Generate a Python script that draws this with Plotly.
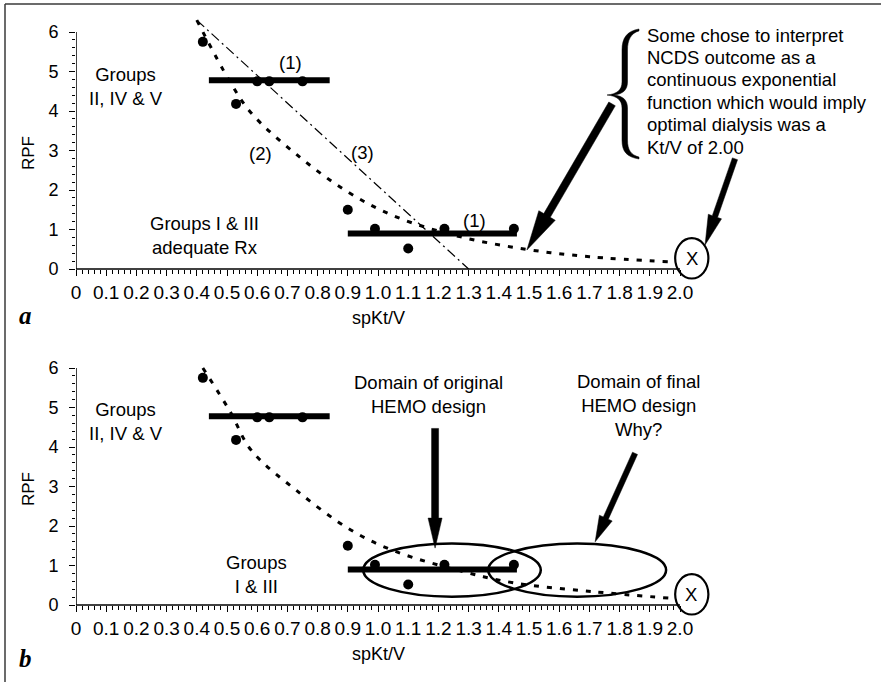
import math
import plotly.graph_objects as go

W, H = 881, 682

# ---------------- data ----------------
kt_points = [0.42, 0.53, 0.60, 0.64, 0.75, 0.90, 0.99, 1.10, 1.22, 1.45]
rpf_points = [5.75, 4.18, 4.75, 4.75, 4.75, 1.50, 1.02, 0.52, 1.02, 1.02]

bar_high_x = [0.44, 0.84]
bar_high_y = [4.78, 4.78]
bar_low_x = [0.90, 1.46]
bar_low_y = [0.90, 0.90]

exp_a_x = [0.40, 0.51, 0.58, 0.73, 0.90, 1.06, 1.27, 1.49, 1.70, 1.97]
exp_a_y = [6.30, 4.74, 3.95, 2.90, 1.95, 1.32, 0.82, 0.50, 0.31, 0.18]

exp_b_x = [0.42, 0.51, 0.58, 0.73, 0.91, 1.06, 1.27, 1.45, 1.71, 1.97]
exp_b_y = [6.00, 4.90, 3.92, 2.90, 1.90, 1.35, 0.87, 0.56, 0.34, 0.17]

linear_x = [0.40, 1.30]
linear_y = [6.30, 0.00]

x_tickvals = [0.0, 0.1, 0.2, 0.3, 0.4, 0.5, 0.6, 0.7, 0.8, 0.9, 1.0,
              1.1, 1.2, 1.3, 1.4, 1.5, 1.6, 1.7, 1.8, 1.9, 2.0]
x_ticktext = ["0", "0.1", "0.2", "0.3", "0.4", "0.5", "0.6", "0.7", "0.8", "0.9", "1.0",
              "1.1", "1.2", "1.3", "1.4", "1.5", "1.6", "1.7", "1.8", "1.9", "2.0"]
y_tickvals = [0, 1, 2, 3, 4, 5, 6]
y_ticktext = ["0", "1", "2", "3", "4", "5", "6"]

note_lines = ["Some chose to interpret", "NCDS outcome as a", "continuous exponential",
              "function which would imply", "optimal dialysis was a", "Kt/V of 2.00"]

# ---------------- geometry ----------------
X0, XS = 76.0, 302.0          # pixel of x=0, pixels per unit
YA0, YB0, YS = 269.0, 605.0, 39.5
XR = [0.0, 2.3]
YR = [-0.45, 6.6]

FONT = "Liberation Sans, Arial, Helvetica, sans-serif"
TS = 18.5


def px_x(x):
    return X0 + XS * x


def px_y(y, panel):
    return (YA0 if panel == "a" else YB0) - YS * y


def pap(px, py):
    return px / W, 1.0 - py / H


x_dom = [X0 / W, (X0 + XS * XR[1]) / W]


def y_dom(base):
    top = base - YS * YR[1]
    bot = base - YS * YR[0]
    return [1 - bot / H, 1 - top / H]


minor_x = [round(i * 0.02, 2) for i in range(101) if i % 5 != 0]
minor_y = [round(i * 0.2, 1) for i in range(31) if i % 5 != 0]

fig = go.Figure()

for xa, ya, cx, cy in (("x", "y", exp_a_x, exp_a_y), ("x2", "y2", exp_b_x, exp_b_y)):
    fig.add_trace(go.Scatter(x=cx, y=cy, mode="lines", xaxis=xa, yaxis=ya,
                             line=dict(color="black", width=3, dash="5px,8px", shape="spline"),
                             hoverinfo="skip"))
    fig.add_trace(go.Scatter(x=bar_high_x, y=bar_high_y, mode="lines", xaxis=xa, yaxis=ya,
                             line=dict(color="black", width=6)))
    fig.add_trace(go.Scatter(x=bar_low_x, y=bar_low_y, mode="lines", xaxis=xa, yaxis=ya,
                             line=dict(color="black", width=6)))
    fig.add_trace(go.Scatter(x=kt_points, y=rpf_points, mode="markers", xaxis=xa, yaxis=ya,
                             marker=dict(color="black", size=10)))

fig.add_trace(go.Scatter(x=linear_x, y=linear_y, mode="lines", xaxis="x", yaxis="y",
                         line=dict(color="black", width=1.2, dash="10px,4px,2px,4px")))


def xaxis_cfg(base):
    return dict(domain=x_dom, range=XR, anchor="free", position=1 - base / H,
                showline=False, showgrid=False, zeroline=False, automargin=False,
                tickmode="array", tickvals=x_tickvals, ticktext=x_ticktext,
                ticks="outside", ticklen=6, tickwidth=1.3, tickcolor="black",
                ticklabelstandoff=0,
                minor=dict(tickmode="array", tickvals=minor_x, ticks="outside",
                           ticklen=3.5, tickwidth=1, tickcolor="black"),
                tickfont=dict(family=FONT, size=19, color="black"))


def yaxis_cfg(base, anchor):
    return dict(domain=y_dom(base), range=YR, anchor=anchor,
                showline=False, showgrid=False, zeroline=False, automargin=False,
                tickmode="array", tickvals=y_tickvals, ticktext=y_ticktext,
                ticks="outside", ticklen=6, tickwidth=1.3, tickcolor="black",
                ticklabelstandoff=7,
                minor=dict(tickmode="array", tickvals=minor_y, ticks="outside",
                           ticklen=3.5, tickwidth=1, tickcolor="black"),
                tickfont=dict(family=FONT, size=18, color="black"))


shapes = []
# axis lines
for xr, yr in (("x", "y"), ("x2", "y2")):
    shapes.append(dict(type="line", xref=xr, yref=yr, x0=0, y0=0, x1=2.0, y1=0,
                       line=dict(color="black", width=1.5)))
    shapes.append(dict(type="line", xref=xr, yref=yr, x0=0, y0=0, x1=0, y1=6,
                       line=dict(color="black", width=1.5)))
    # circled X
    shapes.append(dict(type="circle", xref=xr, yref=yr, x0=1.984, x1=2.094, y0=-0.24, y1=0.78,
                       line=dict(color="black", width=2.2)))

# ellipses (panel b)
shapes.append(dict(type="circle", xref="x2", yref="y2", x0=0.951, x1=1.539, y0=0.21, y1=1.56,
                   line=dict(color="black", width=2.5)))
shapes.append(dict(type="circle", xref="x2", yref="y2", x0=1.365, x1=1.954, y0=0.21, y1=1.56,
                   line=dict(color="black", width=2.5)))

# frame
fx0, fy0 = pap(5, 4)
fx1, fy1 = pap(W, 4)
shapes.append(dict(type="line", xref="paper", yref="paper", x0=fx0, y0=fy0, x1=fx1, y1=fy1,
                   line=dict(color="#3a3a3a", width=1.5)))
fx2, fy2 = pap(5, H)
shapes.append(dict(type="line", xref="paper", yref="paper", x0=fx0, y0=fy0, x1=fx2, y1=fy2,
                   line=dict(color="#3a3a3a", width=1.5)))


def arrow(tail, tip, panel, w, L, Wh):
    tx, ty = px_x(tail[0]), px_y(tail[1], panel)
    hx, hy = px_x(tip[0]), px_y(tip[1], panel)
    dx, dy = hx - tx, hy - ty
    d = math.hypot(dx, dy)
    ux, uy = dx / d, dy / d
    nx, ny = -uy, ux
    bx, by = hx - ux * L, hy - uy * L
    pts = [(tx + nx * w / 2, ty + ny * w / 2), (bx + nx * w / 2, by + ny * w / 2),
           (bx + nx * Wh / 2, by + ny * Wh / 2), (hx, hy),
           (bx - nx * Wh / 2, by - ny * Wh / 2), (bx - nx * w / 2, by - ny * w / 2),
           (tx - nx * w / 2, ty - ny * w / 2)]
    p = [pap(a, b) for a, b in pts]
    path = "M " + " L ".join(f"{a:.5f},{b:.5f}" for a, b in p) + " Z"
    return dict(type="path", xref="paper", yref="paper", path=path,
                fillcolor="black", line=dict(color="black", width=0.5))


shapes.append(arrow((1.775, 4.18), (1.493, 0.48), "a", 7.5, 40, 19))
shapes.append(arrow((2.182, 2.79), (2.083, 0.61), "a", 5.5, 30, 14))
shapes.append(arrow((1.189, 4.47), (1.189, 1.44), "b", 7, 30, 14))
shapes.append(arrow((1.851, 3.84), (1.719, 1.60), "b", 5.5, 26, 14))

# curly brace (pixel outline -> paper)
brace_px = [
    ("M", [(639, 29)]),
    ("C", [(627, 31), (622, 38), (622, 50)]),
    ("L", [(622, 82)]),
    ("C", [(622, 90), (617, 94), (607, 95)]),
    ("C", [(617, 96), (622, 100), (622, 108)]),
    ("L", [(622, 140)]),
    ("C", [(622, 152), (627, 157), (639, 159)]),
    ("L", [(639, 157)]),
    ("C", [(631, 155), (627.5, 150), (627.5, 140)]),
    ("L", [(627.5, 108)]),
    ("C", [(627.5, 100), (623, 96), (614, 95)]),
    ("C", [(623, 94), (627.5, 90), (627.5, 82)]),
    ("L", [(627.5, 50)]),
    ("C", [(627.5, 40), (631, 33), (639, 31)]),
]
bp = ""
for cmd, pts in brace_px:
    bp += cmd + " " + " ".join("%.5f,%.5f" % pap(a, b) for a, b in pts) + " "
bp += "Z"
shapes.append(dict(type="path", xref="paper", yref="paper", path=bp,
                   fillcolor="black", line=dict(color="black", width=0.5)))

annotations = []


def txt(text, x, y, xr, yr, size=TS, align="center", xanchor="center", **kw):
    annotations.append(dict(text=text, x=x, y=y, xref=xr, yref=yr, showarrow=False,
                            font=dict(family=FONT, size=size, color="black"),
                            align=align, xanchor=xanchor, yanchor="middle", **kw))


# panel a texts
txt("Groups<br>II, IV &amp; V", 0.165, 4.62, "x", "y")
txt("(1)", 0.71, 5.24, "x", "y")
txt("(2)", 0.61, 2.93, "x", "y")
txt("(3)", 0.95, 2.94, "x", "y")
txt("(1)", 1.32, 1.24, "x", "y")
txt("Groups I &amp; III<br>adequate Rx", 0.427, 0.85, "x", "y")
txt("X", 2.039, 0.27, "x", "y")
for i, line in enumerate(note_lines):
    py = 35 + 22.4 * i
    txt(line, 1.883, (YA0 - py) / YS, "x", "y", align="left", xanchor="left")

# panel b texts
txt("Groups<br>II, IV &amp; V", 0.165, 4.65, "x2", "y2")
txt("Groups<br>I &amp; III", 0.598, 0.76, "x2", "y2")
txt("Domain of original<br>HEMO design", 1.167, 5.32, "x2", "y2")
txt("Domain of final<br>HEMO design<br>Why?", 1.862, 5.04, "x2", "y2")
txt("X", 2.035, 0.27, "x2", "y2")

# axis titles
for base in (YA0, YB0):
    ax_, ay_ = pap(378, base + 49)
    txt("spKt/V", ax_, ay_, "paper", "paper", size=18)
    rx, ry = pap(28, base - 116)
    txt("RPF", rx, ry, "paper", "paper", size=17, textangle=-90)

# panel letters
for letter, py in (("a", 315), ("b", 658)):
    lx, ly = pap(17, py)
    annotations.append(dict(text="<b><i>%s</i></b>" % letter, x=lx, y=ly, xref="paper", yref="paper",
                            showarrow=False, xanchor="left", yanchor="middle",
                            font=dict(family="Liberation Serif, Times New Roman, serif",
                                      size=25, color="black")))

fig.update_layout(
    width=W, height=H, autosize=False,
    margin=dict(l=0, r=0, t=0, b=0, pad=0),
    paper_bgcolor="white", plot_bgcolor="white",
    showlegend=False, hovermode=False,
    xaxis=xaxis_cfg(YA0), yaxis=yaxis_cfg(YA0, "x"),
    xaxis2=xaxis_cfg(YB0), yaxis2=yaxis_cfg(YB0, "x2"),
    shapes=shapes, annotations=annotations,
)

fig.write_html("out.html", config={"displayModeBar": False},
               post_script="document.body.style.margin='0px';")
